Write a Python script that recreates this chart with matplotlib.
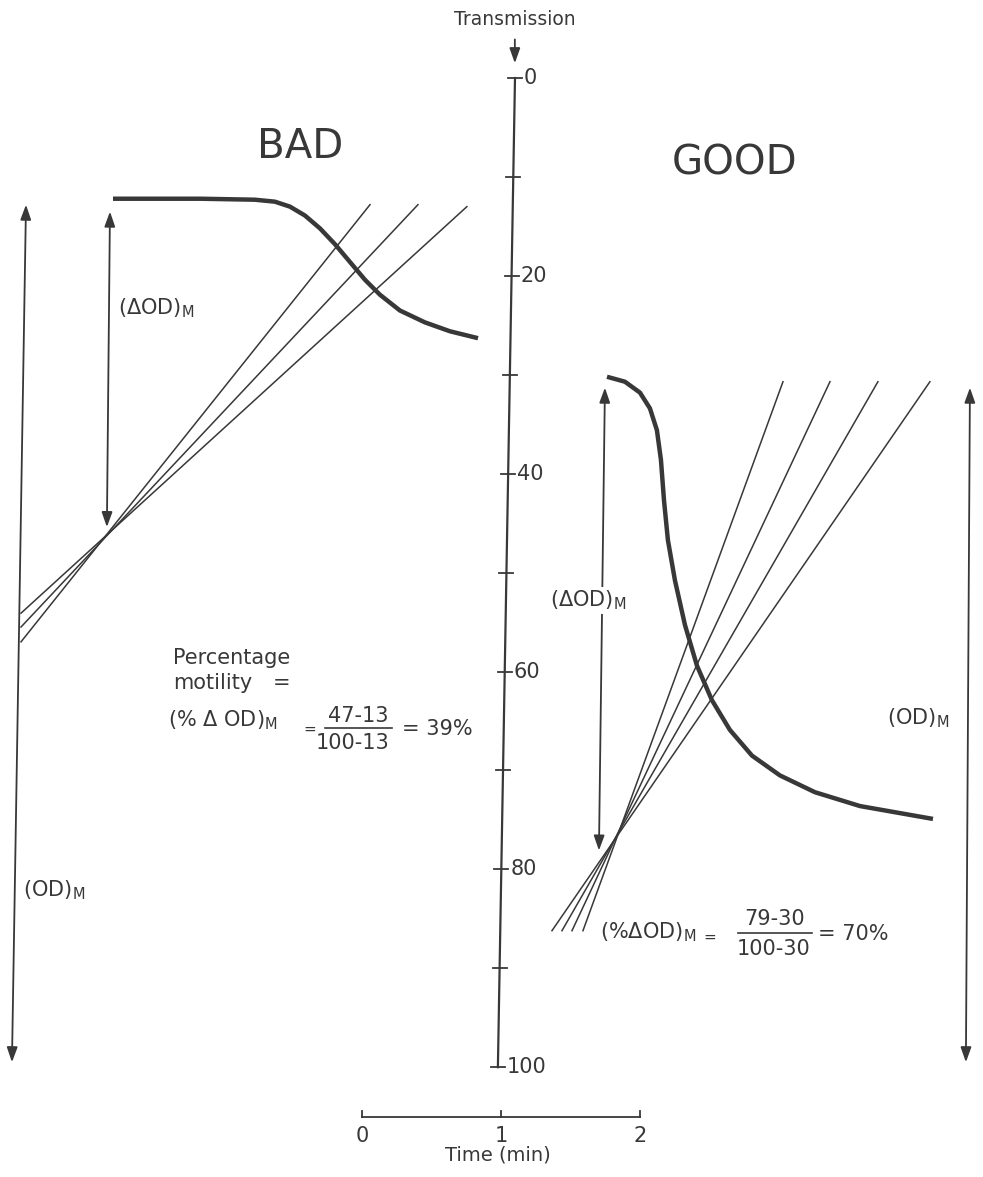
import matplotlib.pyplot as plt
import numpy as np

plt.rcParams['font.family'] = ['DejaVu Sans']
plt.rcParams['mathtext.default'] = 'regular'

INK = '#383838'

# scales: time in minutes, transmission in %
time_ticks = [0, 1, 2]
trans_ticks = [0, 10, 20, 30, 40, 50, 60, 70, 80, 90, 100]
trans_labels = [0, 20, 40, 60, 80, 100]
trans_axis_x = [1.101, 0.978]      # axis is drawn slightly skewed (scan)

# BAD sample
bad_t = [-1.791, -1.165, -0.770, -0.626, -0.518, -0.410, -0.302, -0.194, -0.086,
         0.022, 0.129, 0.273, 0.453, 0.633, 0.835]
bad_tr = [12.2, 12.2, 12.3, 12.5, 13.0, 13.9, 15.2, 16.8, 18.6,
          20.4, 21.9, 23.5, 24.7, 25.6, 26.3]
bad_tan_top_t = [0.058, 0.403, 0.755]
bad_tan_top_tr = [12.8, 12.8, 13.0]
bad_tan_bot_t = [-2.453, -2.453, -2.453]
bad_tan_bot_tr = [57.0, 55.5, 54.1]

# GOOD sample
good_t = [1.763, 1.892, 2.000, 2.072, 2.122, 2.151, 2.173, 2.201, 2.252, 2.324,
          2.410, 2.518, 2.647, 2.806, 3.007, 3.259, 3.583, 4.108]
good_tr = [30.2, 30.7, 31.8, 33.4, 35.6, 38.6, 42.7, 46.7, 50.8, 55.3,
           59.4, 62.9, 65.9, 68.5, 70.5, 72.2, 73.6, 74.9]
good_tan_top_t = [3.029, 3.367, 3.712, 4.086]
good_tan_top_tr = [30.7, 30.7, 30.7, 30.7]
good_tan_bot_t = [1.590, 1.511, 1.439, 1.367]
good_tan_bot_tr = [86.2, 86.2, 86.2, 86.2]

fig = plt.figure(figsize=(9.83, 11.77), dpi=100)
ax = fig.add_axes([0, 0, 1, 1])
ax.set_xlim(-2.604, 4.468)
ax.set_ylim(111.1, -7.89)
ax.axis('off')


def arrow(x0, y0, x1, y1, style='<|-|>'):
    ax.annotate('', xy=(x1, y1), xytext=(x0, y0),
                arrowprops=dict(arrowstyle=style + ',head_length=0.9,head_width=0.32',
                                color=INK, lw=1.3, shrinkA=0, shrinkB=0))


# transmission axis
ax.plot(trans_axis_x, [trans_ticks[0], trans_ticks[-1]], color=INK, lw=1.6)
for v in trans_ticks:
    xa = trans_axis_x[0] + (trans_axis_x[1] - trans_axis_x[0]) * v / 100
    ax.plot([xa - 0.05, xa + 0.05], [v, v], color=INK, lw=1.3)
    if v in trans_labels:
        ax.text(xa + 0.065, v, str(v), fontsize=15, color=INK, ha='left', va='center')
ax.text(1.10, -5.9, 'Transmission', fontsize=13.5, color=INK, ha='center', va='center')
arrow(1.10, -3.9, 1.10, -1.5, style='-|>')

# time axis
ax.plot([time_ticks[0], time_ticks[-1]], [105.0, 105.0], color=INK, lw=1.3)
for v in time_ticks:
    ax.plot([v, v], [105.0, 104.4], color=INK, lw=1.3)
    ax.text(v, 107.0, str(v), fontsize=15, color=INK, ha='center', va='center')
ax.text(0.98, 108.9, 'Time (min)', fontsize=14, color=INK, ha='center', va='center')

# BAD panel
ax.text(-0.446, 7.0, 'BAD', fontsize=29, color=INK, ha='center', va='center')
ax.plot(bad_t, bad_tr, color=INK, lw=3.2, solid_capstyle='butt', solid_joinstyle='round')
for i in range(len(bad_tan_top_t)):
    ax.plot([bad_tan_bot_t[i], bad_tan_top_t[i]], [bad_tan_bot_tr[i], bad_tan_top_tr[i]],
            color=INK, lw=1.1)
arrow(-1.813, 13.5, -1.835, 45.4)
ax.text(-1.755, 23.3, r'($\Delta$OD)$_{M}$', fontsize=15, color=INK, ha='left', va='center')
arrow(-2.417, 12.8, -2.518, 99.5)
ax.text(-2.439, 82.1, '(OD)$_{M}$', fontsize=15, color=INK, ha='left', va='center')

ax.text(-1.36, 58.6, 'Percentage', fontsize=15, color=INK, ha='left', va='center')
ax.text(-1.36, 61.2, 'motility', fontsize=15, color=INK, ha='left', va='center')
ax.text(-0.64, 61.2, '=', fontsize=15, color=INK, ha='left', va='center')
ax.text(-1.396, 64.9, r'(% $\Delta$ OD)$_{M}$', fontsize=15, color=INK, ha='left', va='center')
ax.text(-0.42, 65.8, '=', fontsize=11, color=INK, ha='left', va='center')
ax.text(-0.029, 64.5, '47-13', fontsize=15, color=INK, ha='center', va='center')
ax.plot([-0.266, 0.216], [65.7, 65.7], color=INK, lw=1.2)
ax.text(-0.065, 67.2, '100-13', fontsize=15, color=INK, ha='center', va='center')
ax.text(0.288, 65.8, '= 39%', fontsize=15, color=INK, ha='left', va='center')

# GOOD panel
ax.text(2.683, 8.6, 'GOOD', fontsize=29, color=INK, ha='center', va='center')
ax.plot(good_t, good_tr, color=INK, lw=3.2, solid_capstyle='butt', solid_joinstyle='round')
for i in range(len(good_tan_top_t)):
    ax.plot([good_tan_bot_t[i], good_tan_top_t[i]], [good_tan_bot_tr[i], good_tan_top_tr[i]],
            color=INK, lw=1.1)
arrow(1.748, 31.3, 1.705, 78.1)
ax.text(1.626, 52.8, r'($\Delta$OD)$_{M}$', fontsize=15, color=INK, ha='center', va='center',
        bbox=dict(facecolor='white', edgecolor='none', pad=1), zorder=5)
arrow(4.374, 31.3, 4.345, 99.5)
ax.text(3.777, 64.7, '(OD)$_{M}$', fontsize=15, color=INK, ha='left', va='center')

ax.text(1.712, 86.4, r'(%$\Delta$OD)$_{M}$', fontsize=15, color=INK, ha='left', va='center')
ax.text(2.453, 86.9, '=', fontsize=11, color=INK, ha='left', va='center')
ax.text(2.971, 85.0, '79-30', fontsize=15, color=INK, ha='center', va='center')
ax.plot([2.705, 3.237], [86.45, 86.45], color=INK, lw=1.2)
ax.text(2.960, 88.0, '100-30', fontsize=15, color=INK, ha='center', va='center')
ax.text(3.281, 86.5, '= 70%', fontsize=15, color=INK, ha='left', va='center')

fig.savefig('out.png', dpi=100, facecolor='white')
